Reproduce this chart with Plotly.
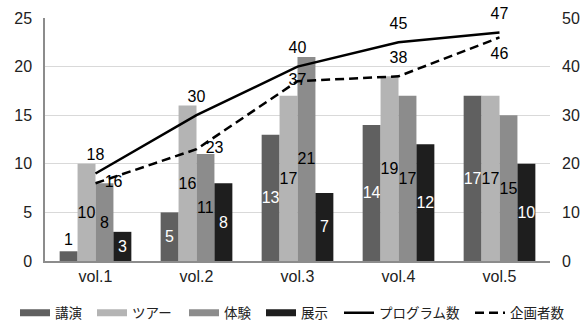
import plotly.graph_objects as go

categories = ["vol.1", "vol.2", "vol.3", "vol.4", "vol.5"]

lecture = [1, 5, 13, 14, 17]       # 講演
tour = [10, 16, 17, 19, 17]        # ツアー
experience = [8, 11, 21, 17, 15]   # 体験
exhibit = [3, 8, 7, 12, 10]        # 展示

programs = [18, 30, 40, 45, 47]    # プログラム数
planners = [16, 23, 37, 38, 46]    # 企画者数

FONT = "Arial, 'Liberation Sans', 'Noto Sans CJK JP', sans-serif"
DASH = "9px,5px"

bar_specs = [
    ("講演", lecture, "#606060", "white"),
    ("ツアー", tour, "#b4b4b4", "black"),
    ("体験", experience, "#8c8c8c", "black"),
    ("展示", exhibit, "#1e1e1e", "white"),
]

fig = go.Figure()

for name, vals, color, tcolor in bar_specs:
    positions = ["outside" if v < 3 else "inside" for v in vals]
    fig.add_trace(go.Bar(
        x=categories, y=vals, name=name,
        marker=dict(color=color, line=dict(width=0)),
        text=[str(v) for v in vals],
        textposition=positions,
        insidetextanchor="middle",
        constraintext="none",
        textangle=0,
        insidetextfont=dict(color=tcolor, size=16, family=FONT),
        outsidetextfont=dict(color="black", size=16, family=FONT),
        cliponaxis=False,
        showlegend=False,
    ))

# invisible markers keep the value labels a little away from the line vertices
hidden_marker = dict(size=13, color="rgba(0,0,0,0)")

fig.add_trace(go.Scatter(
    x=categories, y=programs, yaxis="y2", name="プログラム数",
    mode="lines+markers+text", line=dict(color="black", width=2.5),
    marker=hidden_marker,
    text=[str(v) for v in programs], textposition="top center",
    textfont=dict(color="black", size=16, family=FONT),
    showlegend=False, cliponaxis=False,
))
fig.add_trace(go.Scatter(
    x=categories, y=planners, yaxis="y2", name="企画者数",
    mode="lines+markers+text", line=dict(color="black", width=2.5, dash=DASH),
    marker=hidden_marker,
    text=[str(v) for v in planners],
    textposition=["middle right", "middle right", "middle center",
                  "top center", "bottom center"],
    textfont=dict(color="black", size=16, family=FONT),
    showlegend=False, cliponaxis=False,
))

# legend row: one small legend per entry so each can sit at its own x
legend_entries = [
    (name, dict(color=color, width=7)) for name, vals, color, tcolor in bar_specs
] + [
    ("プログラム数", dict(color="black", width=2.5)),
    ("企画者数", dict(color="black", width=2.5, dash=DASH)),
]
legend_x = [15, 92, 184, 261, 339, 470]

layout_legends = {}
for i, ((name, line), lx) in enumerate(zip(legend_entries, legend_x)):
    key = "legend" if i == 0 else f"legend{i + 1}"
    fig.add_trace(go.Scatter(x=[None], y=[None], mode="lines", name=name,
                             legend=key, line=line))
    layout_legends[key] = dict(
        orientation="h", xref="container", yref="container",
        x=lx / 581, xanchor="left", y=0.037, yanchor="middle",
        font=dict(size=13.5, color="#222222"), itemwidth=30,
        bgcolor="rgba(0,0,0,0)",
    )

fig.update_layout(
    width=581, height=325,
    margin=dict(l=45, r=31, t=18, b=64, autoexpand=False),
    paper_bgcolor="white", plot_bgcolor="white",
    font=dict(family=FONT, size=16, color="#222222"),
    barmode="group", bargap=0.29, bargroupgap=0,
    xaxis=dict(
        showline=True, linecolor="#8c8c8c", linewidth=1.5,
        ticks="", showgrid=False, tickfont=dict(size=16, color="#222222"),
    ),
    yaxis=dict(
        range=[0, 25], dtick=5, showgrid=True, gridcolor="#d9d9d9",
        showline=True, linecolor="#8c8c8c", linewidth=1.5,
        ticks="", ticklabelstandoff=8, zeroline=False,
        tickfont=dict(size=16, color="#222222"),
    ),
    yaxis2=dict(
        range=[0, 50], dtick=10, overlaying="y", side="right",
        showgrid=False, showline=False, ticks="", zeroline=False,
        ticklabelstandoff=11, tickfont=dict(size=16, color="#222222"),
    ),
    showlegend=True,
    **layout_legends,
)

fig.write_html("out.html")
